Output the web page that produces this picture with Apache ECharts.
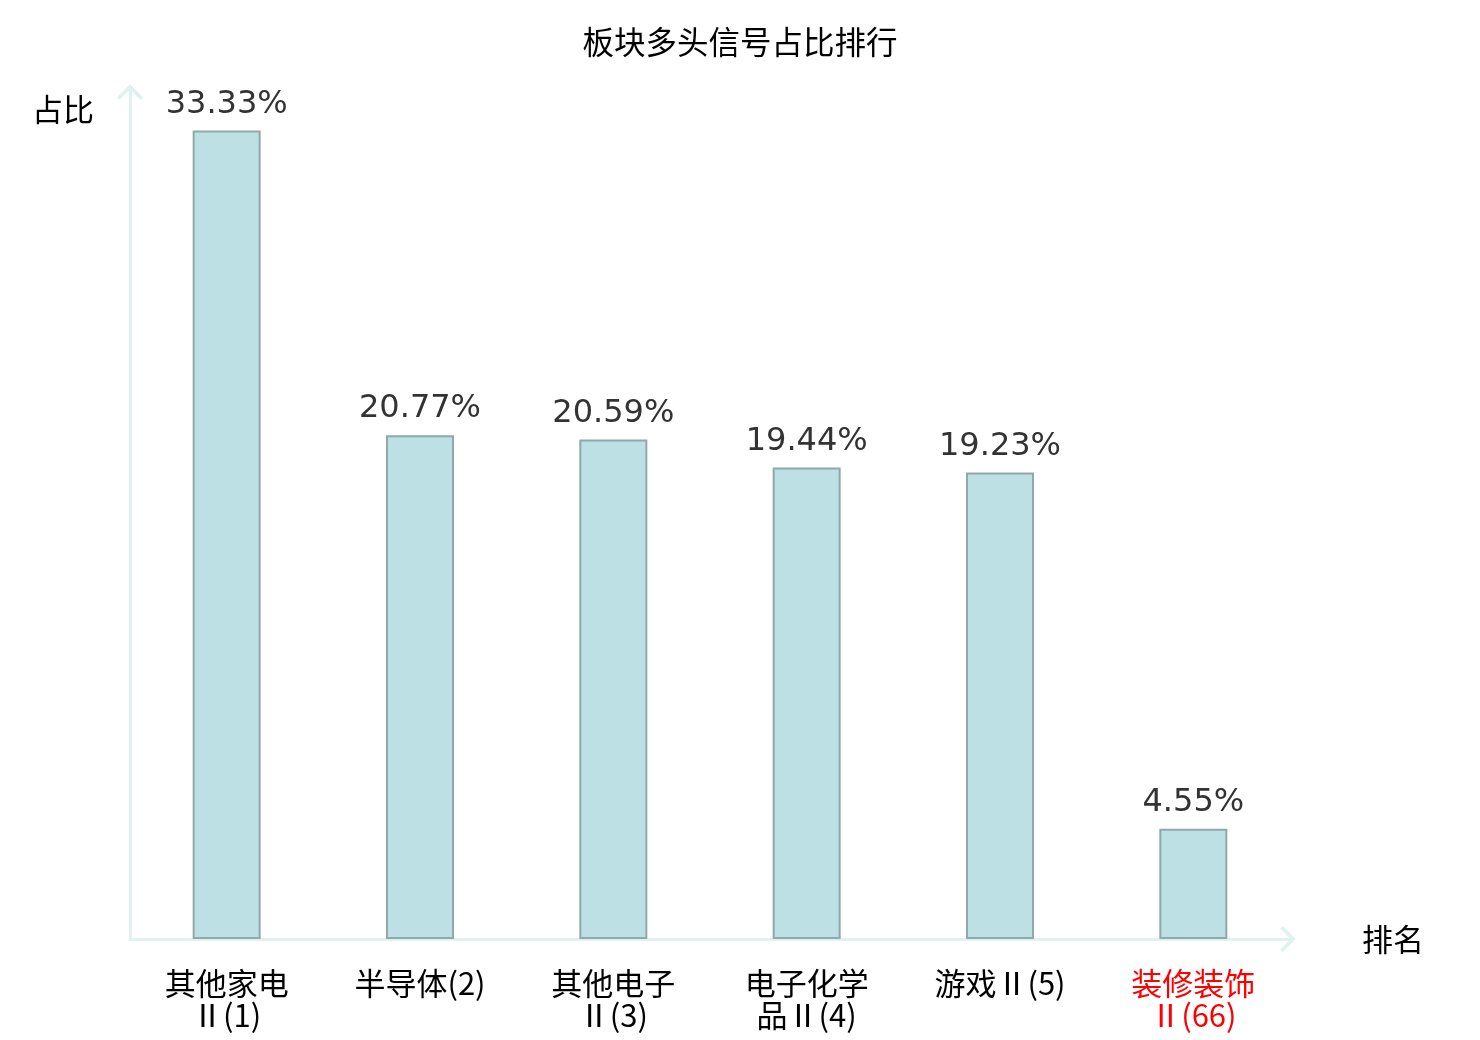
<!DOCTYPE html>
<html>
<head>
<meta charset="utf-8">
<script src="https://cdn.jsdelivr.net/npm/echarts@6/dist/echarts.min.js"></script>
<style>
  html, body { margin: 0; padding: 0; background: #fff; }
  #chart { width: 1480px; height: 1040px; }
</style>
</head>
<body>
<div id="chart"></div>
<script>
// 板块名称、排名、占比(%)
let sectors = ["其他家电Ⅱ", "半导体", "其他电子Ⅱ", "电子化学品Ⅱ", "游戏Ⅱ", "装修装饰Ⅱ"]
let ranks = [1, 2, 3, 4, 5, 66]
let ratios = [33.33, 20.77, 20.59, 19.44, 19.23, 4.55]
let highlight = "装修装饰Ⅱ"

let cjk = "'Noto Sans CJK SC', 'DejaVu Sans', sans-serif"
// 空心箭头(折线形)
let chevron = "path://M0,20 L20,0 L40,20 L36,24 L20,8 L4,24 Z"

let categories = sectors.map(function (name, i) {
    let label = name + "(" + ranks[i] + ")"
    let item = {value: label}
    if (name === highlight) {
        item.textStyle = {color: "#ff0000"}
    }
    return item
})

let chart = echarts.init(document.getElementById("chart"))

let option = {
    animation: false,
    title: {
        text: "板块多头信号占比排行",
        left: "center",
        top: 21,
        textStyle: {fontFamily: cjk, fontSize: 31.5, fontWeight: "normal", color: "#000"}
    },
    grid: {left: 130, right: 190, top: 90, bottom: 101, containLabel: false},
    xAxis: {
        type: "category",
        data: categories,
        name: "排名",
        nameLocation: "end",
        nameGap: 72,
        nameTextStyle: {fontFamily: cjk, fontSize: 31, color: "#000", verticalAlign: "middle"},
        axisLine: {
            show: true,
            symbol: ["none", chevron],
            symbolSize: [26, 16],
            symbolOffset: [0, -2],
            lineStyle: {color: "#dff2ef", width: 3}
        },
        axisTick: {show: false},
        axisLabel: {
            interval: 0,
            margin: 28,
            fontFamily: cjk,
            fontSize: 31,
            lineHeight: 32,
            color: "#000",
            formatter: function (val) {
                // 名称较长时在第4个字后换行
                if (val.length > 6) {
                    return val.slice(0, 4) + "\n" + val.slice(4)
                }
                return val
            }
        }
    },
    yAxis: {
        type: "value",
        min: 0,
        max: 35,
        name: "占比",
        nameLocation: "end",
        nameGap: 0,
        nameTextStyle: {fontFamily: cjk, fontSize: 31, color: "#000", align: "right", padding: [0, 36, -35, 0]},
        axisLine: {
            show: true,
            symbol: ["none", chevron],
            symbolSize: [26, 16],
            symbolOffset: [0, -2],
            lineStyle: {color: "#dff2ef", width: 3}
        },
        axisTick: {show: false},
        axisLabel: {show: false},
        splitLine: {show: false}
    },
    series: [{
        type: "bar",
        data: ratios,
        barWidth: 68,
        itemStyle: {color: "#bce0e3", borderColor: "#8fa8a9", borderWidth: 2},
        label: {
            show: true,
            position: "top",
            distance: 10,
            fontFamily: "'DejaVu Sans', sans-serif",
            fontSize: 32,
            color: "#333",
            formatter: function (p) {
                return p.value.toFixed(2) + "%"
            }
        }
    }]
}

chart.setOption(option)
</script>
</body>
</html>
